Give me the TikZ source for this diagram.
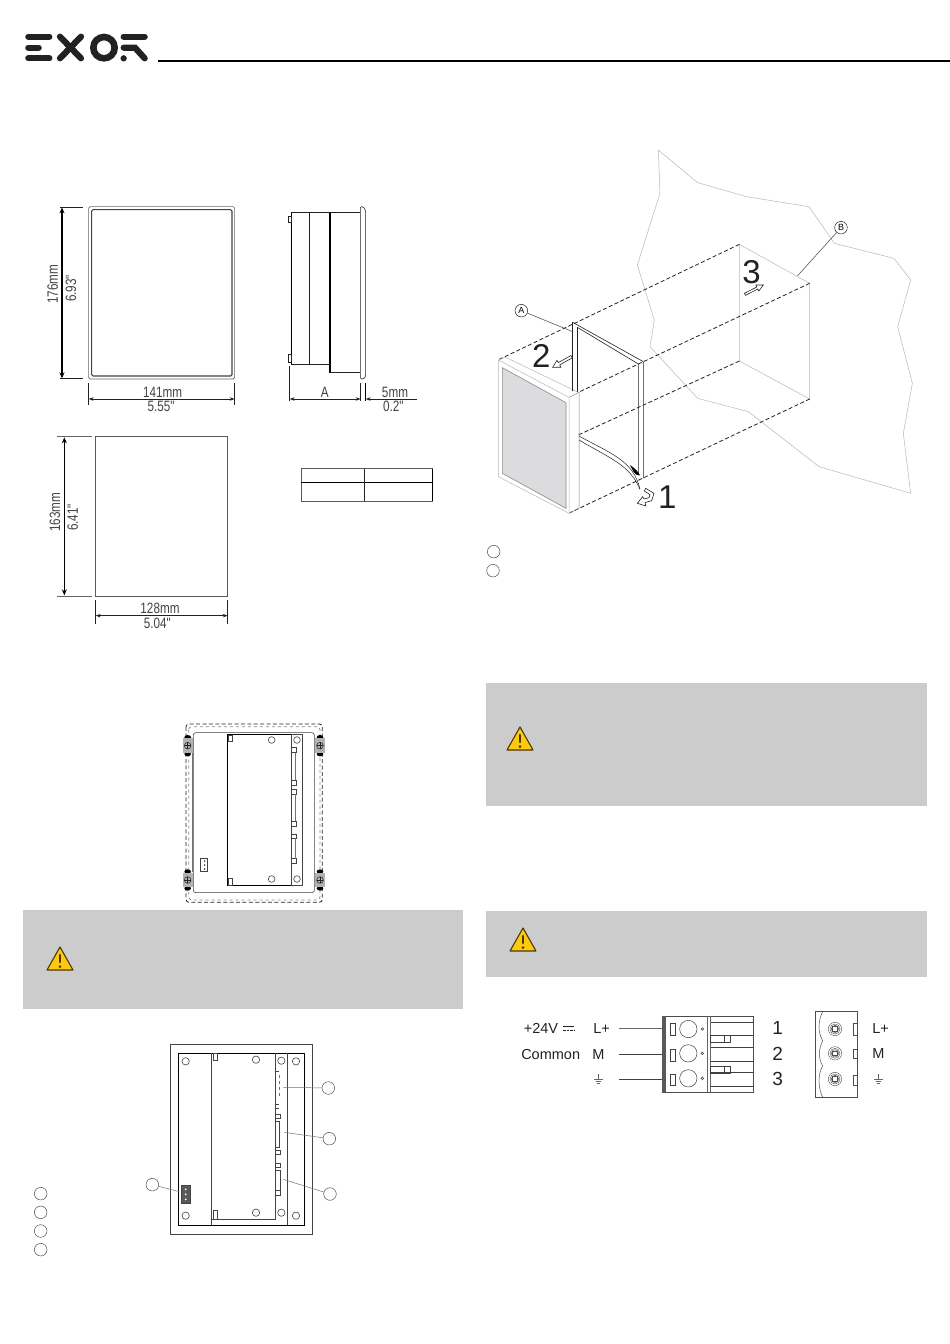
\documentclass[tikz,border=0pt]{standalone}
\usepackage{fontspec}
\setmainfont{Liberation Sans}
\newfontfamily\narrowf[FakeStretch=0.78]{Liberation Sans}
\usetikzlibrary{arrows.meta}
\definecolor{boxgray}{HTML}{CCCCCC}
\definecolor{wallgray}{HTML}{B8B8B8}
\definecolor{inkdark}{HTML}{222222}
\definecolor{screengray}{HTML}{DCDCDF}
\definecolor{warnyellow}{HTML}{FFC90E}
\definecolor{warnedge}{HTML}{4A3A08}
\tikzset{
  dimlabel/.style={inner sep=0pt,font=\narrowf\fontsize{15}{15}\selectfont,text=inkdark!85},
  dimline/.style={line width=.7pt,draw=inkdark,{Stealth[length=5pt,width=3.5pt]}-{Stealth[length=5pt,width=3.5pt]}},
  dimbold/.style={line width=1.6pt,draw=black,{Stealth[length=6pt,width=5pt]}-{Stealth[length=6pt,width=5pt]}},
  extline/.style={line width=.7pt,draw=inkdark},
  panelbox/.style={fill=boxgray,draw=none},
  warntri/.style={fill=warnyellow,draw=warnedge,line width=1.1pt,line join=round},
  holdash/.style={line width=.8pt,draw=inkdark,dash pattern=on 4pt off 2.4pt},
  wall/.style={line width=.5pt,draw=wallgray,line join=round},
  hollow/.style={line width=.6pt,draw=inkdark,fill=white,line join=miter},
  bignum/.style={inner sep=0pt,font=\fontsize{33}{33}\selectfont,text=inkdark},
  refcircle/.style={circle,draw=inkdark!80,line width=.5pt,minimum size=12.6pt,inner sep=0pt},
  abcircle/.style={circle,draw=inkdark,line width=.5pt,minimum size=12.6pt,inner sep=0pt,font=\fontsize{9}{9}\selectfont},
  leader/.style={line width=.5pt,draw=inkdark!85},
  leadergray/.style={line width=.5pt,draw=black!55},
  terminal/.style={inner sep=0pt,font=\fontsize{14.5}{15}\selectfont,text=inkdark},
  termnum/.style={inner sep=0pt,font=\fontsize{19}{19}\selectfont,text=inkdark},
  draft/.style={line width=.6pt,draw=inkdark},
  draftb/.style={line width=1.1pt,draw=black},
  pcb/.style={line width=.6pt,draw=inkdark!85},
  zoomA/.style={shift={(0,180)},x=.33333pt,y=-.33333pt},
  zoomB/.style={shift={(470,140)},x=.33333pt,y=-.33333pt},
  zoomC/.style={shift={(160,710)},x=.33333pt,y=-.33333pt},
  zoomD/.style={shift={(20,1030)},x=.33333pt,y=-.33333pt},
  zoomE/.style={shift={(500,1000)},x=.33333pt,y=-.33333pt},
  zoomF/.style={shift={(0,20)},x=.33333pt,y=-.33333pt},
}
\begin{document}
\begin{tikzpicture}[x=1pt,y=-1pt]
\useasboundingbox (0,0) rectangle (950,1344);
\fill[white] (0,0) rectangle (950,1344);

% logo and header rule
\begin{scope}[zoomF,draw=inkdark,line width=6.2pt,line cap=round]
  \draw (85,50) -- (148,50);
  \draw (85,83) -- (116,83);
  \draw (85,115) -- (148,115);
  \draw (180,50) -- (243,115);
  \draw (243,50) -- (180,115);
  \draw[line width=6.6pt] (312,83) circle (32);
  \draw (371,50) -- (434,50);
  \draw (371,83) -- (405,83) -- (434,115);
  \fill[inkdark] (371,115) circle (9.5);
\end{scope}
\draw[line width=2pt,black] (158,61) -- (950,61);

% front view and dimensions
\begin{scope}[zoomA]
  \draw[draft,rounded corners=1.5pt,draw=inkdark!70] (266,80) rectangle (704,597);
  \draw[draftb,rounded corners=1.5pt,draw=inkdark!85] (275,89) rectangle (696,588);
  \draw[dimbold] (186,82) -- (186,595);
  \draw[extline,line width=1.1pt] (180,82) -- (250,82);
  \draw[extline,line width=1.1pt] (180,595) -- (250,595);
  \draw[extline] (266,610) -- (266,676);
  \draw[extline] (704,610) -- (704,676);
  \draw[dimline] (266,657) -- (704,657);
  \node[dimlabel,rotate=90] (l176) at (158,313) {176mm};
  \node[dimlabel,rotate=90] (l693) at (213,325) {6.93"};
  \node[dimlabel] (l141) at (488,636) {141mm};
  \node[dimlabel] (l555) at (483,680) {5.55"};

  % side view
  \draw[draft] (873,98) -- (1080,98);
  \draw[draftb,line width=.9pt] (873,98) -- (873,552);
  \draw[draft] (873,552) -- (990,552);
  \draw[draft] (929,98) -- (929,552);
  \draw[line width=1.5pt,black] (990,98) -- (990,578);
  \draw[draft] (990,578) -- (1081,578);
  \draw[draft,fill=white,rounded corners=1.2pt] (1081,80) -- (1090,80) -- (1097,92) -- (1097,590) -- (1090,597) -- (1081,597) -- cycle;
  \draw[draft] (865,108) rectangle (873,128);
  \draw[draft] (865,522) rectangle (873,548);
  \draw[extline] (869,558) -- (869,664);
  \draw[extline] (1082,610) -- (1082,664);
  \draw[line width=1.3pt,black] (1097,610) -- (1097,662);
  \draw[dimline] (869,657) -- (1082,657);
  \draw[extline,-{Stealth[length=5pt,width=3.5pt]}] (1250,657) -- (1097,657);
  \node[dimlabel] (la) at (974,636) {A};
  \node[dimlabel] (l5) at (1185,636) {5mm};
  \node[dimlabel] (l02) at (1180,680) {0.2"};

  % cut-out and dimensions
  \draw[draft,draw=inkdark!75] (287,770) rectangle (683,1248);
  \draw[extline,draw=inkdark!70] (172,770) -- (275,770);
  \draw[extline,draw=inkdark!70] (172,1248) -- (275,1248);
  \draw[dimbold] (193,772) -- (193,1246);
  \draw[extline] (287,1260) -- (287,1332);
  \draw[extline] (683,1260) -- (683,1332);
  \draw[dimline] (287,1307) -- (683,1307);
  \node[dimlabel,rotate=90] (l163) at (165,997) {163mm};
  \node[dimlabel,rotate=90] (l641) at (218,1012) {6.41"};
  \node[dimlabel] (l128) at (480,1284) {128mm};
  \node[dimlabel] (l504) at (472,1330) {5.04"};

  % table
  \draw[draft,draw=inkdark!75] (904,866) rectangle (1297,963);
  \draw[draftb,line width=.9pt] (904,907) -- (1297,907);
  \draw[draft] (1094,866) -- (1094,963);
  \draw[draftb,line width=.9pt] (1297,866) -- (1297,963);
\end{scope}

% mounting perspective
\begin{scope}[zoomB]
  \draw[wall] (565,30) -- (570,160) -- (502,375) -- (553,540) -- (540,620) -- (683,775) -- (835,815) -- (1047,980) -- (1322,1060) -- (1300,880) -- (1327,730) -- (1283,560) -- (1322,420) -- (1272,355) -- (1093,310) -- (1017,200) -- (830,170) -- (683,128) -- cycle;
  \draw[wall] (808,313) -- (1019,430) -- (1019,777) -- (808,663) -- cycle;
  % dashed tunnel
  \draw[holdash] (808,313) -- (88,658);
  \draw[holdash] (1019,430) -- (325,757);
  \draw[holdash] (808,663) -- (325,885);
  \draw[holdash] (1019,777) -- (300,1118);
  % panel
  \draw[wall,fill=white] (85,660) -- (297,772) -- (297,1120) -- (85,1010) -- cycle;
  \fill[screengray] (97,683) -- (288,788) -- (288,1105) -- (97,1000) -- cycle;
  \draw[line width=.6pt,draw=black!45] (97,683) -- (288,788) -- (288,1105) -- (97,1000) -- cycle;
  \draw[wall] (85,660) -- (107,652) -- (325,757);
  \draw[wall,draw=black!50] (297,772) -- (327,757) -- (327,1105) -- (297,1120);
  % gasket
  \draw[draft] (308,547) -- (520,665) -- (520,1015);
  \draw[draft] (308,547) -- (308,752);
  \draw[draft] (322,562) -- (322,755);
  \draw[draft] (322,562) -- (505,672) -- (505,1005);
  \draw[draft,line width=.5pt] (327,888) .. controls (420,940) and (490,960) .. (510,1048);
  \draw[draft,line width=.5pt] (327,900) .. controls (420,955) and (480,975) .. (510,1048);
  \fill[black] (480,975) .. controls (495,985) and (505,995) .. (510,1006) .. controls (495,1008) and (490,995) .. (480,975) -- cycle;
  % hollow arrows
  \draw[hollow] (303,646.5) -- (265,667.7) -- (261,660.8) -- (248,682) -- (273,681.6) -- (269,674.7) -- (307,653.5) -- cycle;
  \draw[hollow] (823.4,460) -- (860.4,441) -- (857.5,435) -- (880,435) -- (866.5,453) -- (863.6,447) -- (826.6,466) -- cycle;
  \draw[hollow] (527,1045) -- (552,1060) -- (545,1082) -- (525,1088) -- (528,1098) -- (502,1090) -- (518,1070) -- (522,1077) -- (537,1073) -- (540,1064) -- (523,1053) -- cycle;
  \node[bignum] (n2) at (214,648) {2};
  \node[bignum] (n3) at (845,395) {3};
  \node[bignum] (n1) at (592,1071) {1};
  \node[abcircle] (ca) at (154,512) {A};
  \node[abcircle] (cb) at (1113,263) {B};
  \coordinate (ea) at (308,575);
  \coordinate (eb) at (983,407);
  \draw[leader] (ca) -- (ea);
  \draw[leader] (cb) -- (eb);
  \node[refcircle] (ra) at (71,1235) {};
  \node[refcircle] (rb) at (69,1292) {};
\end{scope}

% rear view with clamps
\begin{scope}[zoomC]
  \draw[dashed,draw=black!45,line width=.7pt,rounded corners=3pt] (86,50) rectangle (480,570);
  \draw[holdash,rounded corners=3pt] (78,42) rectangle (487,577);
  \draw[pcb,rounded corners=2.5pt] (100,68) rectangle (463,548);
  \draw[line width=1.2pt,draw=black!55] (98,130) -- (98,487);
  \draw[line width=1pt,black] (203,73) rectangle (394,525);
  \draw[pcb] (394,73) rectangle (427,525);
  \foreach \px/\py in {335/90,411/90,335/507,411/507}{\draw[pcb] (\px,\py) circle (10);}
  \foreach \py/\ph in {112/16,210/15,237/15,333/17,372/12,446/14}{\draw[pcb] (394,\py) rectangle (408,\py+\ph);}
  \draw[leadergray] (406,128) -- (406,210);
  \draw[leadergray] (406,252) -- (406,333);
  \draw[leadergray] (406,384) -- (406,446);
  \draw[pcb] (205,75) rectangle (218,95);
  \draw[pcb] (205,505) rectangle (218,525);
  \draw[pcb,line width=.9pt] (122,445) rectangle (142,485);
  \foreach \py in {453,465,477}{\fill[inkdark] (134,\py) circle (2.5);}
  \foreach \cx/\cy in {83/107,480/107,83/510,480/510}{
    \fill[black] (\cx,\cy-25) ellipse (10 and 7);
    \fill[black] (\cx,\cy+25) ellipse (10 and 7);
    \fill[black!30] (\cx-15,\cy-22) rectangle (\cx+15,\cy+22);
    \draw[inkdark,line width=.5pt] (\cx,\cy) circle (10);
    \draw[inkdark,line width=.5pt] (\cx-10,\cy) -- (\cx+10,\cy) (\cx,\cy-10) -- (\cx,\cy+10);
  }
\end{scope}

% rear view with ports
\begin{scope}[zoomD]
  \draw[pcb] (451,43) rectangle (878,612);
  \draw[line width=.9pt,black] (475,70) rectangle (853,586);
  \draw[pcb] (575,70) -- (575,586);
  \draw[pcb] (803,70) -- (803,586);
  \draw[pcb] (765,70) -- (765,568) -- (575,568);
  \foreach \px/\py in {497/94,708/89,784/92,828/94,497/557,708/548,784/548,828/557}{\draw[pcb] (\px,\py) circle (11);}
  \draw[pcb] (580,70) rectangle (592,92);
  \draw[pcb] (580,542) rectangle (592,568);
  \foreach \py/\ph in {252/14,362/12,400/12,480/16}{\draw[pcb] (767,\py) rectangle (780,\py+\ph);}
  \draw[pcb] (767,275) rectangle (778,352);
  \draw[pcb] (767,422) rectangle (780,480);
  \draw[pcb] (767,125) -- (777,125) (767,222) -- (777,222) (767,235) -- (777,235);
  \draw[leadergray,dashed] (778,135) -- (778,205);
  \draw[pcb,fill=black!65,line width=.8pt] (484,467) rectangle (510,520);
  \foreach \py in {478,493,508}{\fill[white] (497,\py) circle (3);}
  \node[refcircle] (p1) at (925,174) {};
  \node[refcircle] (p2) at (928,326) {};
  \node[refcircle] (p3) at (930,492) {};
  \node[refcircle] (p4) at (397,464) {};
  \coordinate (e1) at (790,172);
  \coordinate (e2) at (793,307);
  \coordinate (e3) at (790,448);
  \coordinate (e4) at (478,485);
  \draw[leadergray] (p1) -- (e1);
  \draw[leadergray] (p2) -- (e2);
  \draw[leadergray] (p3) -- (e3);
  \draw[leadergray] (p4) -- (e4);
  \node[refcircle] (g1) at (62,491) {};
  \node[refcircle] (g2) at (62,547) {};
  \node[refcircle] (g3) at (62,603) {};
  \node[refcircle] (g4) at (62,659) {};
\end{scope}

% grey panels
\fill[panelbox] (486,683) rectangle (927,806);
\fill[panelbox] (23,910) rectangle (463,1009);
\fill[panelbox] (486,911) rectangle (927,977);
\foreach \tx/\ty in {520/739,60/959,523/940}{
  \draw[warntri] (\tx-13,\ty+11) -- (\tx,\ty-12) -- (\tx+13,\ty+11) -- cycle;
  \draw[line width=2.6pt,warnedge,line cap=round] (\tx,\ty-4) -- (\tx,\ty+3);
  \fill[warnedge] (\tx,\ty+7.5) circle (1.5);
}

% power connector
\begin{scope}[zoomE]
  \node[terminal] (t24) at (123,85) {+24V};
  \draw[line width=.9pt,inkdark] (190,80) -- (222,80);
  \draw[line width=.9pt,inkdark,dash pattern=on 2.4pt off 1pt] (190,92) -- (222,92);
  \node[terminal] (tcom) at (152,163) {Common};
  \node[terminal] (tl1) at (305,85) {L+};
  \node[terminal] (tm1) at (295,163) {M};
  \draw[line width=.5pt,black!60] (295,222) -- (295,238) (282,238) -- (308,238) (287,244) -- (303,244) (291,250) -- (299,250);
  \coordinate (w1) at (357,86);
  \coordinate (w2) at (357,163);
  \coordinate (w3) at (357,238);
  \coordinate (w1e) at (490,86);
  \coordinate (w2e) at (490,163);
  \coordinate (w3e) at (490,238);
  \draw[line width=.7pt,black!60] (w1) -- (w1e);
  \draw[line width=.6pt,black!75] (w2) -- (w2e);
  \draw[line width=.6pt,black!75] (w3) -- (w3e);
  \draw[line width=.5pt,black!70] (487,48) rectangle (760,277);
  \fill[black!65] (487,48) rectangle (497,277);
  \draw[line width=.5pt,black!60] (622,48) -- (622,277) (632,48) -- (632,277);
  \foreach \sy/\cy in {70/87,148/160,222/235}{
    \draw[line width=.5pt,black!75] (510,\sy) rectangle (525,\sy+35);
    \draw[line width=.5pt,black!75] (565,\cy) circle (26);
    \draw[line width=.5pt,black!75] (607,\cy) circle (4);
  }
  \draw[line width=.6pt,black!75] (632,66) -- (760,66) (632,107) -- (760,107) (632,143) -- (760,143) (632,183) -- (760,183) (632,218) -- (760,218) (632,260) -- (760,260);
  \draw[line width=.5pt,black!75] (632,107) rectangle (690,127);
  \draw[line width=.5pt,black!75] (672,107) -- (672,127);
  \draw[line width=.5pt,black!75] (632,200) rectangle (690,220);
  \draw[line width=.5pt,black!75] (672,200) -- (672,220);
  \node[termnum] (d1) at (833,85) {1};
  \node[termnum] (d2) at (833,163) {2};
  \node[termnum] (d3) at (833,238) {3};
  \draw[line width=.5pt,black!70] (947,35) rectangle (1072,292);
  \draw[line width=.5pt,black!70] (968,35) .. controls (955,60) and (952,95) .. (968,122) .. controls (955,150) and (955,175) .. (968,198) .. controls (952,225) and (955,265) .. (968,292);
  \foreach \cy in {87,160,237}{
    \draw[line width=.4pt,black!70] (1005,\cy) circle (20);
    \draw[line width=.4pt,black!70] (1005,\cy) circle (15);
    \draw[line width=.4pt,black!70] (1005,\cy) circle (11);
    \draw[line width=.4pt,black!70] (998,\cy-7) rectangle (1012,\cy+7);
  }
  \draw[line width=.5pt,black!70] (1060,70) -- (1072,70) (1060,70) -- (1060,105) -- (1072,105);
  \draw[line width=.5pt,black!70] (1060,148) -- (1060,176) -- (1072,176) (1060,148) -- (1072,148);
  \draw[line width=.5pt,black!70] (1060,225) -- (1060,255) -- (1072,255) (1060,225) -- (1072,225);
  \node[terminal] (tl2) at (1142,85) {L+};
  \node[terminal] (tm2) at (1135,160) {M};
  \draw[line width=.5pt,black!60] (1135,222) -- (1135,238) (1122,238) -- (1148,238) (1127,244) -- (1143,244) (1131,250) -- (1139,250);
\end{scope}
\end{tikzpicture}
\end{document}
